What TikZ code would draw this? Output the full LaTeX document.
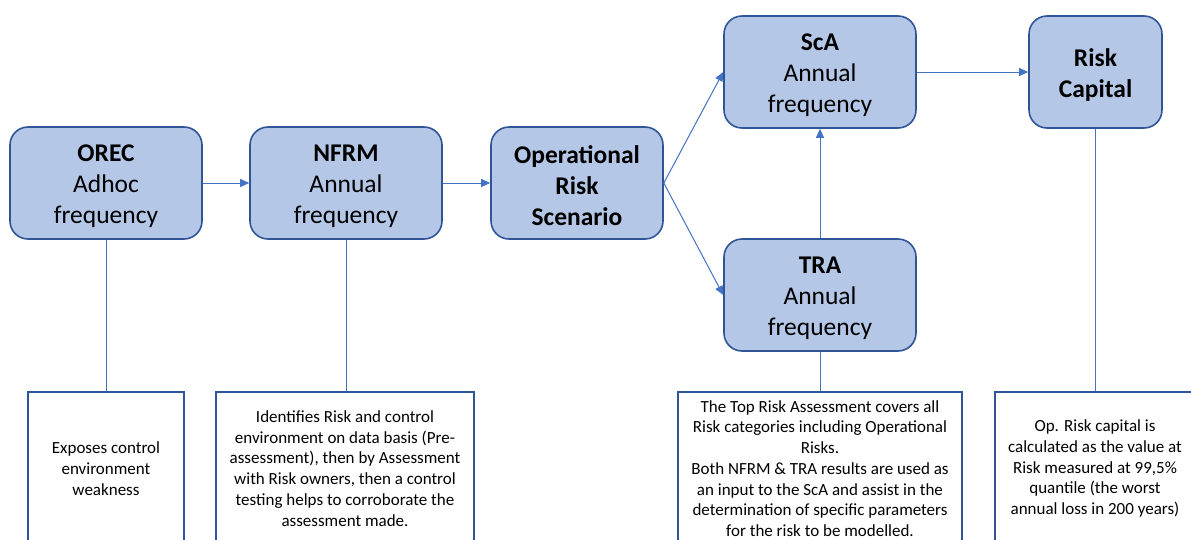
\documentclass[tikz,border=0pt]{standalone}
\usepackage{fontspec}
\setmainfont{Carlito}
\usetikzlibrary{arrows.meta}
\definecolor{boxfill}{HTML}{B4C7E7}
\definecolor{boxline}{HTML}{2F5597}
\definecolor{link}{HTML}{4472C4}
% extra room above the first line of a stage label
\newcommand\headroom{\rule{0pt}{23pt}}
\begin{document}
\begin{tikzpicture}[x=1pt,y=-1pt,
  stage/.style={draw=boxline, fill=boxfill, line width=1.6pt, rounded corners=18pt,
    minimum width=192pt, minimum height=112pt, align=center, inner sep=0pt,
    font=\fontsize{25.5}{31}\selectfont},
  note/.style={draw=boxline, fill=white, line width=1.6pt, align=center, inner sep=0pt,
    minimum height=153pt, font=\fontsize{17}{20.7}\selectfont},
  flow/.style={draw=link, line width=1pt, -{Triangle[length=9pt,width=8pt]}},
  tie/.style={draw=link, line width=1pt}]
\useasboundingbox (0,0) rectangle (1191,539);
\begin{scope}
\clip (0,0) rectangle (1191,539);

% process stages
\node[stage] (orec) at (106,183) {\headroom\textbf{OREC}\\Adhoc\\frequency};
\node[stage] (nfrm) at (346,183) {\headroom\textbf{NFRM}\\Annual\\frequency};
\node[stage, minimum width=172pt] (ors) at (577,183) {\headroom\textbf{Operational}\\\textbf{Risk}\\\textbf{Scenario}};
\node[stage] (sca) at (820,72) {\headroom\textbf{ScA}\\Annual\\frequency};
\node[stage] (tra) at (820,295) {\headroom\textbf{TRA}\\Annual\\frequency};
\node[stage, minimum width=133pt] (cap) at (1095.5,72) {\headroom\textbf{Risk}\\\textbf{Capital}};

% explanatory notes
\node[note, minimum width=156pt] (n1) at (106,468.5)
  {Exposes control\\environment\\weakness};
\node[note, minimum width=258pt] (n2) at (345,468.5)
  {Identifies Risk and control\\environment on data basis (Pre-\\assessment), then by Assessment\\with Risk owners, then a control\\testing helps to corroborate the\\assessment made.};
\node[note, minimum width=284pt] (n3) at (820,468.5)
  {The Top Risk Assessment covers all\\Risk categories including Operational\\Risks.\\Both NFRM \& TRA results are used as\\an input to the ScA and assist in the\\determination of specific parameters\\for the risk to be modelled.};
\node[note, minimum width=200pt] (n4) at (1095,468.5)
  {Op. Risk capital is\\calculated as the value at\\Risk measured at 99,5\%\\quantile (the worst\\annual loss in 200 years)};

% flow between stages
\draw[flow] (orec.east) -- (nfrm.west);
\draw[flow] (nfrm.east) -- (ors.west);
\draw[flow] (ors.east) -- (sca.west);
\draw[flow] (ors.east) -- (tra.west);
\draw[flow] (tra.north) -- (sca.south);
\draw[flow] (sca.east) -- (cap.west);

% links from stages to notes
\draw[tie] (orec.south) -- (orec.south |- n1.north);
\draw[tie] (nfrm.south) -- (nfrm.south |- n2.north);
\draw[tie] (tra.south) -- (tra.south |- n3.north);
\draw[tie] (cap.south) -- (cap.south |- n4.north);
\end{scope}
\end{tikzpicture}
\end{document}
